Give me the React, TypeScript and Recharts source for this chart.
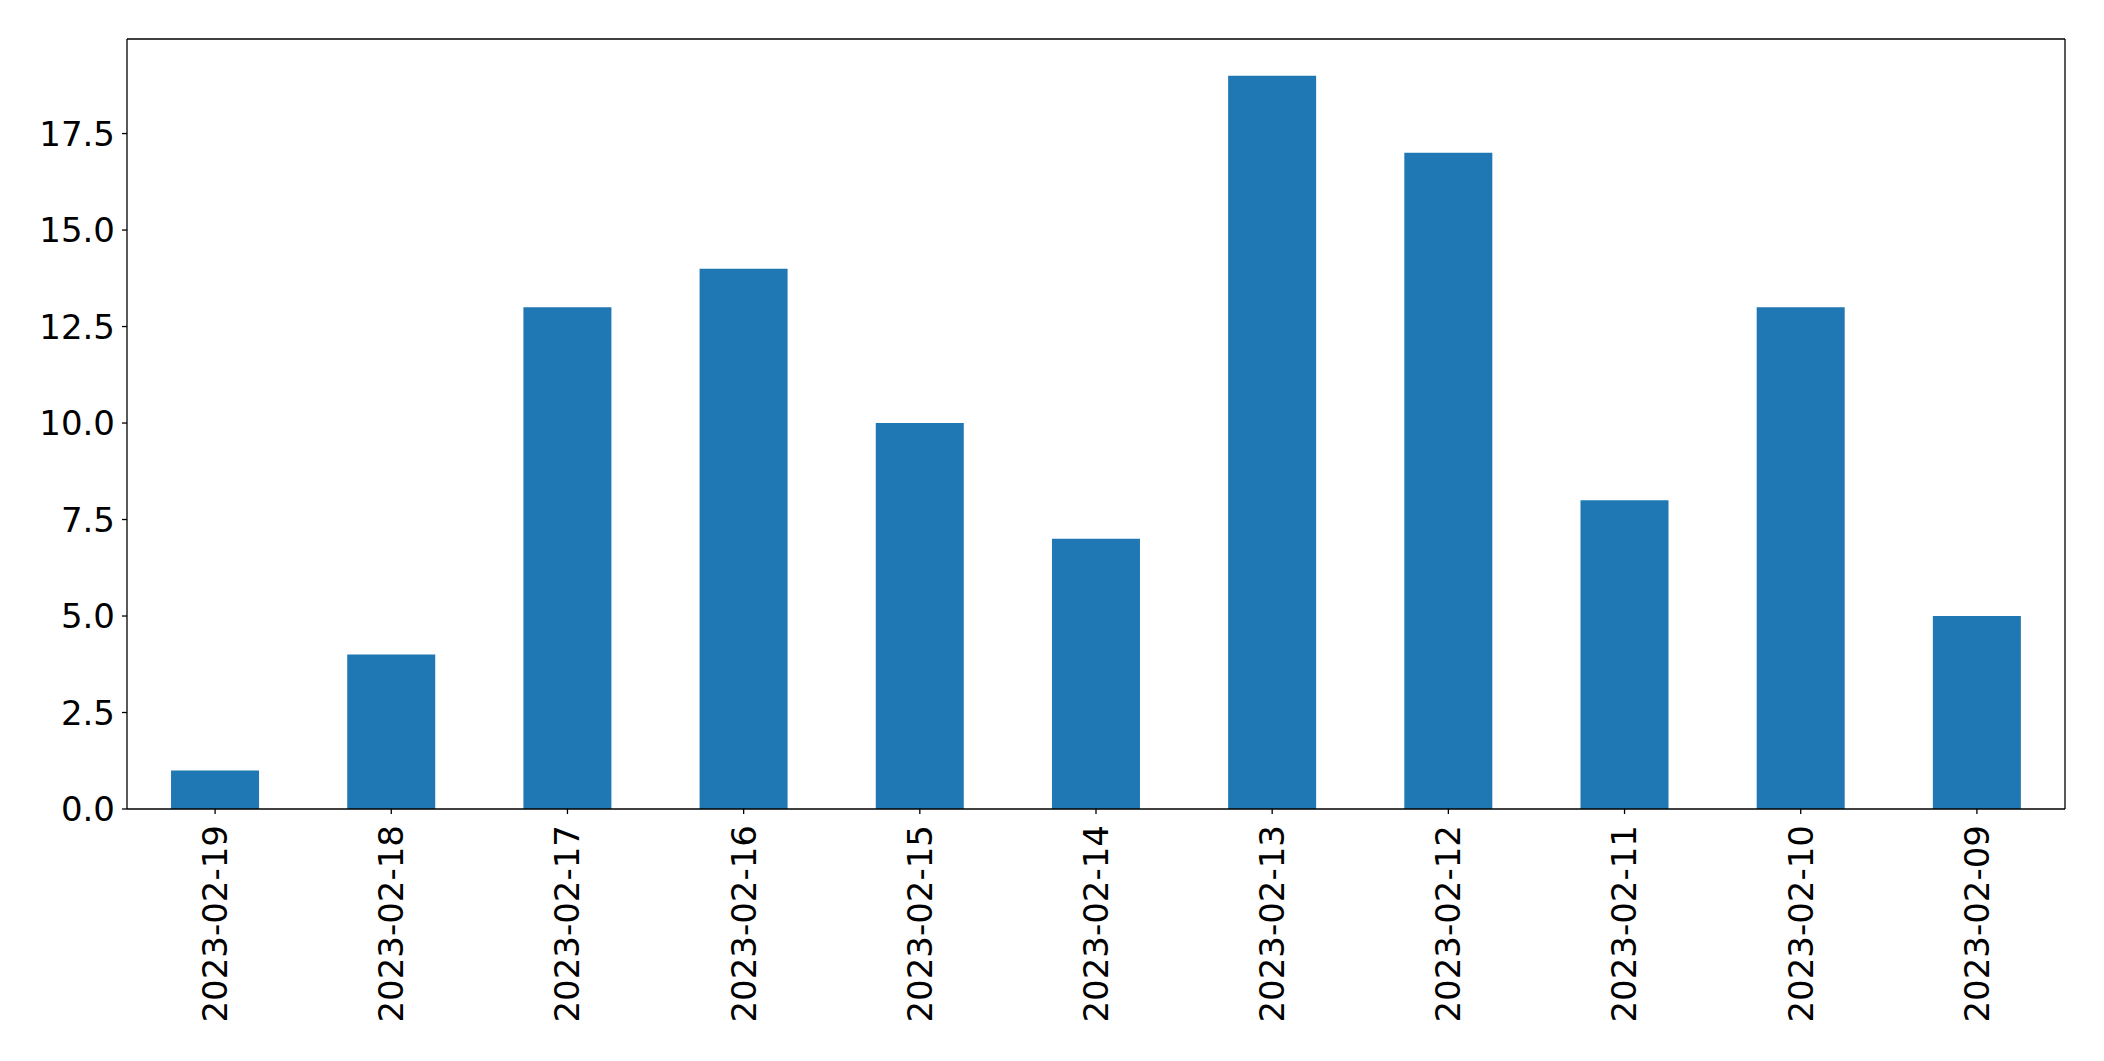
import React from 'react';
import { BarChart, Bar, XAxis, YAxis } from 'recharts';

// dates as shown on the x axis (newest first)
const dates = [
  '2023-02-19', '2023-02-18', '2023-02-17', '2023-02-16', '2023-02-15', '2023-02-14',
  '2023-02-13', '2023-02-12', '2023-02-11', '2023-02-10', '2023-02-09',
];
const counts = [1, 4, 13, 14, 10, 7, 19, 17, 8, 13, 5];
const yTicks = [0, 2.5, 5, 7.5, 10, 12.5, 15, 17.5];

const data = dates.map((d, i) => ({ date: d, count: counts[i] }));

const FONT = 'DejaVu Sans, sans-serif';

const DateTick = ({ x, y, payload }: any) => (
  <g transform={`translate(${x},${y})`}>
    <text
      transform="rotate(-90)"
      x={-11}
      y={0}
      dy="0.35em"
      textAnchor="end"
      fill="#000"
      fontSize={34}
      fontFamily={FONT}
    >
      {payload.value}
    </text>
  </g>
);

const App: React.FC = () => {
  return (
    <div style={{ position: 'absolute', left: 0, top: 0, width: 2104, height: 1061, background: '#fff' }}>
      <BarChart
        width={2104}
        height={1061}
        data={data}
        margin={{ top: 38, right: 38, left: 0, bottom: 0 }}
        barCategoryGap="25%"
      >
        <XAxis
          dataKey="date"
          interval={0}
          height={252}
          tickSize={5}
          tickMargin={0}
          axisLine={{ stroke: '#000', strokeWidth: 1.3 }}
          tickLine={{ stroke: '#000', strokeWidth: 1.3 }}
          tick={<DateTick />}
        />
        <XAxis
          xAxisId="top"
          dataKey="date"
          orientation="top"
          height={1}
          tick={false}
          tickLine={false}
          axisLine={{ stroke: '#000', strokeWidth: 1.3 }}
        />
        <YAxis
          width={127}
          domain={[0, 19.95]}
          ticks={yTicks}
          allowDataOverflow
          tickSize={5}
          tickMargin={7}
          tickFormatter={(v: number) => v.toFixed(1)}
          axisLine={{ stroke: '#000', strokeWidth: 1.3 }}
          tickLine={{ stroke: '#000', strokeWidth: 1.3 }}
          tick={{ fill: '#000', fontSize: 34, fontFamily: FONT }}
        />
        <YAxis
          yAxisId="right"
          orientation="right"
          width={1}
          domain={[0, 19.95]}
          tick={false}
          tickLine={false}
          axisLine={{ stroke: '#000', strokeWidth: 1.3 }}
        />
        <Bar dataKey="count" fill="#1f77b4" isAnimationActive={false} />
      </BarChart>
    </div>
  );
};

export default App;
